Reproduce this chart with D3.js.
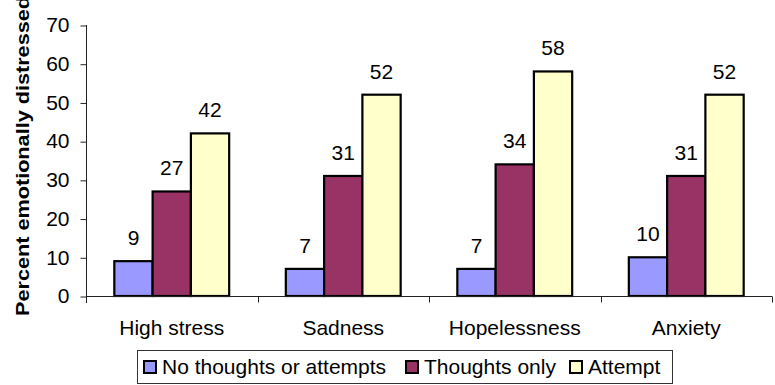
<!DOCTYPE html>
<html>
<head>
<meta charset="utf-8">
<script src="https://cdn.jsdelivr.net/npm/d3@7"></script>
<style>
  html, body { margin: 0; padding: 0; background: #fff; }
  svg { display: block; font-family: "Liberation Sans", Arial, sans-serif; }
</style>
</head>
<body>
<svg id="chart" width="775" height="385"></svg>
<script>
// Emotional distress by suicidal ideation / attempt status
const categories = ["High stress", "Sadness", "Hopelessness", "Anxiety"];
const seriesNames = ["No thoughts or attempts", "Thoughts only", "Attempt"];
const noThoughts = [9, 7, 7, 10];
const thoughtsOnly = [27, 31, 34, 31];
const attempt = [42, 52, 58, 52];
const yTicks = [0, 10, 20, 30, 40, 50, 60, 70];
const yTitle = "Percent emotionally distressed";

const seriesValues = [noThoughts, thoughtsOnly, attempt];
const colors = ["#9999FF", "#993366", "#FFFFCC"];
const FONT = "'Liberation Sans', Arial, sans-serif";

const svg = d3.select("#chart");
const plot = { left: 86, right: 772, top: 25, bottom: 296 };

const x0 = d3.scaleBand()
  .domain(categories)
  .range([plot.left, plot.right])
  .paddingInner(0).paddingOuter(0);

const x1 = d3.scaleBand()
  .domain(seriesNames)
  .range([0, x0.bandwidth()])
  .paddingInner(0).paddingOuter(0.74);

const y = d3.scaleLinear()
  .domain([0, 70])
  .range([plot.bottom, plot.top]);

// Bars
const groups = svg.append("g").selectAll("g")
  .data(categories)
  .join("g")
  .attr("transform", d => `translate(${x0(d)},0)`);

groups.selectAll("rect")
  .data((c, i) => seriesNames.map((s, j) => ({ s, j, v: seriesValues[j][i] })))
  .join("rect")
  .attr("x", d => x1(d.s))
  .attr("y", d => y(d.v))
  .attr("width", x1.bandwidth())
  .attr("height", d => y(0) - y(d.v))
  .attr("fill", d => colors[d.j])
  .attr("stroke", "#000")
  .attr("stroke-width", 2.2);

// Value labels
groups.selectAll("text.val")
  .data((c, i) => seriesNames.map((s, j) => ({ s, j, v: seriesValues[j][i] })))
  .join("text")
  .attr("class", "val")
  .attr("x", d => x1(d.s) + x1.bandwidth() / 2)
  .attr("y", d => y(d.v) - 16)
  .attr("text-anchor", "middle")
  .attr("font-family", FONT)
  .attr("font-size", 21)
  .attr("fill", "#000")
  .text(d => d.v);

// Y axis
const yAxis = d3.axisLeft(y).tickValues(yTicks).tickSize(6).tickPadding(11);
const gy = svg.append("g")
  .attr("transform", `translate(${plot.left + 0.5},0)`)
  .call(yAxis);
gy.select(".domain").attr("d", `M0,${plot.top}V${plot.bottom + 7}`).attr("stroke", "#222");
gy.selectAll(".tick line").attr("stroke", "#222").attr("transform", "translate(0,0.5)");
gy.selectAll(".tick text")
  .attr("font-size", 21)
  .attr("font-family", FONT)
  .attr("fill", "#000");

// X axis with tick marks at category boundaries
const gx = svg.append("g").attr("transform", `translate(0,${plot.bottom + 0.5})`);
gx.append("line")
  .attr("x1", plot.left).attr("x2", plot.right)
  .attr("stroke", "#222");
gx.selectAll("line.sep")
  .data(categories)
  .join("line")
  .attr("class", "sep")
  .attr("x1", d => Math.round(x0(d) + x0.bandwidth()) + 0.5)
  .attr("x2", d => Math.round(x0(d) + x0.bandwidth()) + 0.5)
  .attr("y1", 0).attr("y2", 6)
  .attr("stroke", "#222");
gx.selectAll("text")
  .data(categories)
  .join("text")
  .attr("x", d => x0(d) + x0.bandwidth() / 2)
  .attr("y", 38)
  .attr("text-anchor", "middle")
  .attr("font-family", FONT)
  .attr("font-size", 21)
  .attr("fill", "#000")
  .text(d => d);

// Y axis title
svg.append("text")
  .attr("transform", "translate(29,316) rotate(-90)")
  .attr("text-anchor", "start")
  .attr("font-family", FONT)
  .attr("font-size", 19)
  .attr("font-weight", "bold")
  .attr("textLength", 320)
  .attr("lengthAdjust", "spacingAndGlyphs")
  .attr("fill", "#000")
  .text(yTitle);

// Legend
const legend = svg.append("g");
legend.append("rect")
  .attr("x", 137.5).attr("y", 350.5)
  .attr("width", 535).attr("height", 33)
  .attr("fill", "#fff")
  .attr("stroke", "#333");
const legendX = [143, 405, 569];
const items = legend.selectAll("g.item")
  .data(seriesNames)
  .join("g")
  .attr("class", "item")
  .attr("transform", (d, i) => `translate(${legendX[i]},0)`);
items.append("rect")
  .attr("x", 1).attr("y", 361)
  .attr("width", 12).attr("height", 12)
  .attr("fill", (d, i) => colors[i])
  .attr("stroke", "#000")
  .attr("stroke-width", 2);
items.append("text")
  .attr("x", 19).attr("y", 374)
  .attr("font-family", FONT)
  .attr("font-size", 21)
  .attr("fill", "#000")
  .text(d => d);
</script>
</body>
</html>
